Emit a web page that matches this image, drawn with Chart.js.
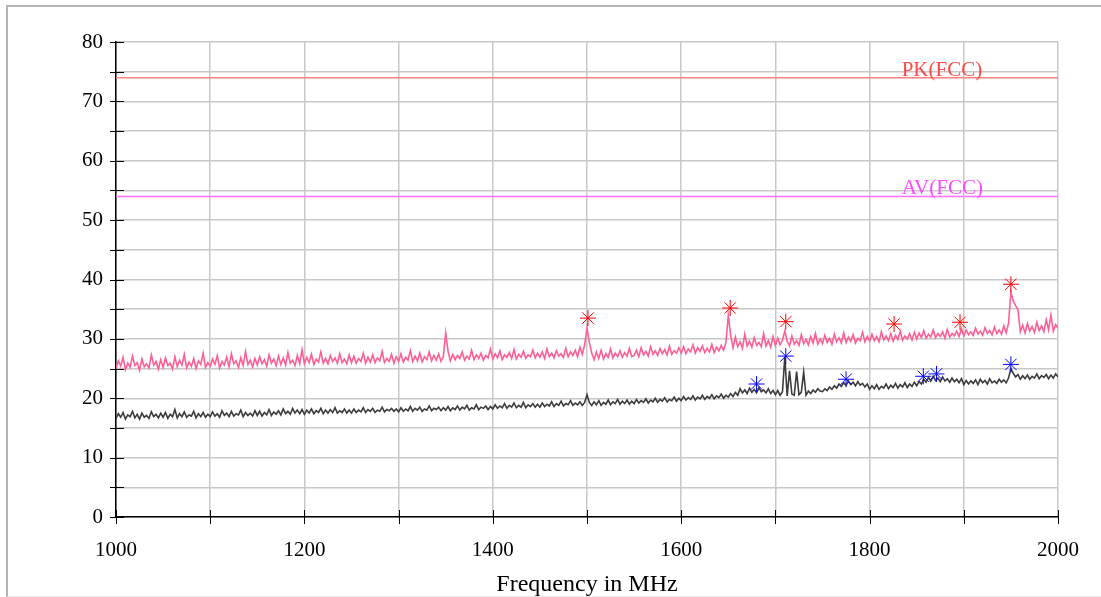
<!DOCTYPE html>
<html>
<head>
<meta charset="utf-8">
<script src="https://cdn.jsdelivr.net/npm/chart.js@4.4.1/dist/chart.umd.min.js"></script>
<style>
  html, body { margin: 0; padding: 0; background: #fff; overflow: hidden; }
  .frame {
    position: absolute; left: 6px; top: 5px; width: 1200px; height: 589px;
    border-left: 2px solid #b4b4b4; border-top: 2px solid #b4b4b4; border-bottom: 1px solid #e6e6e6;
  }
  .wrap { position: absolute; left: 0; top: 0; width: 1101px; height: 597px; }
</style>
</head>
<body>
<div class="frame"></div>
<div class="wrap"><canvas id="scan"></canvas></div>
<script>
/* ===== Sweep data (MHz / dBµV/m) ===== */

// Sweep grid: 1000 .. 2000 MHz, 2.5 MHz per bin, one row = 50 MHz
const SWEEP_START = 1000;
const SWEEP_STEP = 2.5;

// Peak detector trace
const peakLevel = [
  25.0, 26.3, 25.4, 26.9, 24.8, 25.9, 25.2, 27.1, 25.5, 26.0, 24.7, 26.6, 25.3, 25.8, 25.1, 27.3, 25.6, 26.2, 24.9, 26.5,
  25.2, 26.8, 25.5, 25.9, 24.9, 27.0, 25.3, 26.4, 25.6, 27.4, 25.1, 26.1, 25.4, 26.7, 25.0, 26.3, 25.7, 27.6, 25.2, 26.0,
  25.4, 26.6, 25.7, 27.2, 25.1, 26.2, 25.6, 26.9, 25.3, 27.5, 25.8, 26.3, 25.2, 26.8, 25.5, 27.9, 25.7, 26.4, 25.3, 26.7,
  25.6, 27.0, 25.8, 26.5, 25.4, 27.3, 25.9, 26.6, 25.5, 27.1, 25.7, 26.8, 25.6, 27.7, 25.9, 26.4, 25.5, 27.2, 25.8, 28.2,
  25.8, 26.9, 26.0, 27.4, 25.7, 26.6, 26.1, 27.8, 25.9, 26.7, 25.8, 27.2, 26.2, 26.8, 25.9, 27.5, 26.0, 26.6, 25.8, 27.3,
  26.0, 27.1, 25.9, 26.7, 26.2, 27.6, 25.9, 26.9, 26.1, 27.3, 26.0, 26.8, 26.3, 27.9, 26.0, 26.7, 26.2, 27.4, 25.9, 27.0,
  26.2, 27.5, 26.1, 26.9, 26.4, 28.0, 26.2, 27.1, 26.3, 27.6, 26.1, 27.0, 26.5, 27.8, 26.3, 27.2, 26.4, 27.5, 26.2, 27.0,
  31.0, 27.9, 26.3, 27.4, 26.5, 27.2, 26.7, 27.8, 26.4, 27.1, 26.6, 28.1, 26.5, 27.3, 26.7, 27.6, 26.4, 27.2, 26.8, 28.3,
  26.6, 27.5, 26.8, 28.0, 26.5, 27.3, 26.9, 27.7, 26.7, 28.2, 26.6, 27.4, 26.9, 27.9, 26.7, 27.3, 27.0, 28.1, 26.8, 27.6,
  26.9, 27.8, 26.7, 28.3, 27.0, 27.6, 26.8, 28.0, 27.1, 27.5, 26.9, 28.4, 27.0, 27.8, 27.2, 28.1, 27.0, 28.6, 27.4, 29.0,
  31.8, 29.4, 27.6, 26.5, 27.8, 26.7, 28.1, 26.6, 27.5, 26.9, 28.3, 26.8, 27.6, 27.0, 28.0, 26.9, 27.7, 27.1, 28.4, 27.0,
  27.2, 28.1, 27.0, 28.5, 27.3, 27.9, 27.1, 28.7, 27.4, 28.0, 27.2, 28.4, 27.5, 28.2, 27.3, 28.8, 27.4, 28.0, 27.6, 28.5,
  27.6, 28.7, 27.5, 28.3, 27.8, 29.0, 27.6, 28.5, 27.9, 28.8, 27.7, 28.4, 27.8, 29.1, 27.7, 28.6, 28.0, 28.9, 28.1, 29.4,
  34.0, 30.6, 28.5, 30.3, 28.7, 29.5, 28.4, 30.8, 28.8, 29.6, 28.6, 30.2, 28.9, 29.4, 28.7, 30.9, 28.8, 29.7, 28.6, 30.4,
  28.9, 30.1, 29.0, 29.8, 31.3, 29.6, 28.8, 30.5, 29.1, 29.7, 28.9, 30.7, 29.2, 29.9, 29.0, 30.4, 29.3, 30.9, 29.1, 30.0,
  29.2, 30.6, 29.4, 30.1, 29.1, 30.8, 29.5, 30.2, 29.3, 31.0, 29.4, 30.3, 29.6, 30.7, 29.3, 30.1, 29.7, 31.1, 29.5, 30.4,
  29.6, 30.8, 29.7, 30.4, 29.5, 31.2, 29.8, 30.5, 29.7, 30.9, 29.6, 30.6, 29.9, 31.3, 29.8, 30.5, 30.0, 30.9, 29.8, 31.1,
  30.0, 31.0, 30.2, 31.4, 30.1, 30.8, 30.3, 31.5, 30.2, 30.9, 30.4, 31.2, 30.1, 31.6, 30.3, 30.9, 30.5, 31.3, 30.4, 31.7,
  30.5, 31.5, 30.7, 31.2, 30.6, 31.8, 30.8, 31.3, 30.6, 31.9, 30.9, 31.4, 30.7, 32.0, 30.9, 31.5, 30.8, 32.2, 31.0, 32.6,
  37.9, 36.4, 35.6, 34.9, 31.2, 32.3, 31.0, 32.6, 31.3, 32.1, 31.1, 32.8, 31.4, 32.2, 31.2, 33.2, 31.5, 34.0, 31.3, 32.4,
  31.8
];

// Average detector trace
const avgLevel = [
  16.6, 17.4, 16.8, 17.6, 16.5, 17.2, 16.9, 17.8, 16.7, 17.3, 16.5, 17.5, 16.8, 17.1, 16.6, 17.7, 16.9, 17.3, 16.7, 17.5,
  16.8, 17.6, 16.6, 17.3, 16.9, 18.1, 16.7, 17.4, 16.9, 17.7, 16.8, 17.2, 17.0, 17.8, 16.7, 17.4, 16.9, 17.6, 16.8, 17.3,
  16.9, 17.7, 17.0, 17.4, 16.8, 17.9, 17.1, 17.5, 16.9, 17.8, 17.0, 17.4, 17.2, 18.0, 16.9, 17.6, 17.1, 17.5, 17.0, 17.9,
  17.1, 17.8, 17.0, 17.6, 17.2, 18.1, 17.1, 17.7, 17.3, 17.9, 17.2, 18.2, 17.4, 17.8, 17.3, 18.3, 17.5, 18.0, 17.4, 18.1,
  17.3, 18.0, 17.5, 18.2, 17.4, 17.9, 17.6, 18.3, 17.4, 18.0, 17.5, 18.1, 17.6, 18.4, 17.5, 17.9, 17.6, 18.2, 17.5, 18.0,
  17.5, 18.2, 17.6, 18.0, 17.7, 18.4, 17.6, 18.1, 17.8, 18.3, 17.6, 18.0, 17.8, 18.5, 17.7, 18.1, 17.9, 18.3, 17.8, 18.2,
  17.7, 18.4, 17.8, 18.2, 17.9, 18.6, 17.8, 18.3, 18.0, 18.5, 17.8, 18.2, 18.0, 18.7, 17.9, 18.3, 18.1, 18.5, 17.9, 18.4,
  18.0, 18.6, 17.9, 18.4, 18.1, 18.7, 18.0, 18.5, 18.2, 18.8, 18.0, 18.4, 18.2, 18.9, 18.1, 18.5, 18.3, 18.7, 18.1, 18.6,
  18.2, 18.9, 18.3, 18.7, 18.4, 19.1, 18.3, 18.8, 18.5, 19.2, 18.4, 18.8, 18.5, 19.3, 18.4, 18.9, 18.6, 19.1, 18.5, 19.0,
  18.5, 19.2, 18.6, 19.0, 18.7, 19.4, 18.6, 19.1, 18.8, 19.5, 18.7, 19.1, 18.9, 19.6, 18.8, 19.2, 18.9, 19.4, 18.8, 19.3,
  20.6, 19.3, 18.8, 19.4, 18.9, 19.6, 18.8, 19.3, 19.0, 19.7, 18.9, 19.4, 19.1, 19.8, 19.0, 19.5, 19.1, 19.7, 19.0, 19.5,
  19.1, 19.8, 19.2, 19.6, 19.3, 19.9, 19.2, 19.7, 19.4, 20.0, 19.3, 19.8, 19.5, 20.1, 19.4, 19.8, 19.6, 20.2, 19.5, 20.0,
  19.6, 20.3, 19.7, 20.1, 19.8, 20.4, 19.7, 20.2, 19.9, 20.5, 19.8, 20.3, 20.0, 20.6, 19.9, 20.4, 20.1, 20.7, 20.0, 20.5,
  20.2, 20.8, 20.3, 21.0, 20.5, 21.6, 20.9, 21.4, 20.8, 21.7, 21.0, 21.5, 20.9, 21.8, 21.1, 21.4, 20.9, 21.6, 20.8, 21.3,
  20.6, 21.3, 20.5, 21.1, 27.0, 20.4, 24.6, 20.7, 20.5, 24.5, 20.6, 21.0, 24.4, 20.5, 21.2, 20.8, 21.4, 21.0, 21.6, 21.2,
  21.1, 21.6, 21.3, 21.9, 21.5, 22.1, 21.7, 22.4, 22.0, 22.6, 22.2, 22.9, 22.3, 22.7, 22.1, 22.8, 22.2, 22.5, 21.9, 22.4,
  21.5, 22.1, 21.6, 22.3, 21.5, 22.0, 21.7, 22.4, 21.6, 22.2, 21.8, 22.5, 21.7, 22.3, 21.9, 22.6, 21.8, 22.4, 22.0, 22.7,
  22.1, 22.8, 22.4, 23.2, 22.7, 23.5, 22.9, 23.7, 23.0, 23.4, 22.8, 23.6, 22.9, 23.3, 22.7, 23.4, 22.8, 23.2, 22.6, 23.3,
  22.3, 23.0, 22.4, 22.9, 22.5, 23.1, 22.3, 23.2, 22.6, 23.0, 22.4, 23.3, 22.6, 22.9, 22.5, 23.2, 22.7, 23.1, 22.6, 23.4,
  25.0, 24.2, 23.6, 24.0, 23.2, 23.8, 23.3, 23.9, 23.2, 23.7, 23.4, 24.1, 23.3, 23.8, 23.5, 24.0, 23.3, 23.9, 23.4, 24.1,
  23.6
];

// Final measurement markers
const peakMarkFreq  = [1501, 1652, 1711, 1826, 1896, 1950];
const peakMarkLevel = [33.5, 35.2, 32.9, 32.5, 32.8, 39.2];
const avgMarkFreq   = [1680, 1711, 1775, 1857, 1871, 1950];
const avgMarkLevel  = [22.4, 27.1, 23.2, 23.7, 24.1, 25.7];

// Limit lines
const limitNames  = ['PK(FCC)', 'AV(FCC)'];
const limitLevels = [74, 54];
const LIMIT_LABEL_FREQ = 1834;

/* ===== Helpers ===== */

const sweepFreq = peakLevel.map((_, i) => SWEEP_START + i * SWEEP_STEP);
const toPoints = (xs, ys) => ys.map((v, i) => ({ x: xs[i], y: v }));

const SERIF = "'Liberation Serif', 'Times New Roman', serif";
const LIMIT_LINE_COLORS = ['#ff8080', '#ff70ff'];
const LIMIT_TEXT_COLORS = ['#ff4848', '#ff48ff'];

/* ===== Plugins: tick marks crossing the axes, limit captions ===== */

const axisTicks = {
  id: 'axisTicks',
  afterDatasetsDraw(chart) {
    const { ctx, scales: { x, y } } = chart;
    ctx.save();
    ctx.strokeStyle = '#000';
    ctx.lineWidth = 1;
    ctx.beginPath();
    y.ticks.forEach(t => {
      const py = Math.round(y.getPixelForValue(t.value)) + 0.5;
      ctx.moveTo(x.left - 6, py);
      ctx.lineTo(x.left + 8, py);
    });
    x.ticks.forEach(t => {
      const px = Math.round(x.getPixelForValue(t.value)) + 0.5;
      ctx.moveTo(px, y.bottom - 7);
      ctx.lineTo(px, y.bottom + 7);
    });
    ctx.stroke();
    ctx.restore();
  }
};

const limitLabels = {
  id: 'limitLabels',
  afterDatasetsDraw(chart) {
    const { ctx, scales: { x, y } } = chart;
    ctx.save();
    ctx.font = `21px ${SERIF}`;
    ctx.textAlign = 'left';
    ctx.textBaseline = 'alphabetic';
    limitNames.forEach((name, i) => {
      ctx.fillStyle = LIMIT_TEXT_COLORS[i];
      ctx.fillText(name, x.getPixelForValue(LIMIT_LABEL_FREQ), y.getPixelForValue(limitLevels[i]) - 2);
    });
    ctx.restore();
  }
};

/* ===== Chart ===== */

const limitSets = limitNames.map((name, i) => ({
  label: name,
  data: toPoints([SWEEP_START, 2000], [limitLevels[i], limitLevels[i]]),
  borderColor: LIMIT_LINE_COLORS[i],
  borderWidth: 1.5,
  pointRadius: 0,
  order: 3,
}));

const markerSet = (label, xs, ys, color) => ({
  label,
  data: toPoints(xs, ys),
  showLine: false,
  pointStyle: 'star',
  pointRadius: 8,
  borderWidth: 1,
  borderColor: color,
  backgroundColor: color,
  order: 1,
});

new Chart(document.getElementById('scan'), {
  type: 'line',
  data: {
    datasets: [
      ...limitSets,
      {
        label: 'Peak',
        data: toPoints(sweepFreq, peakLevel),
        borderColor: '#ff5f96',
        borderWidth: 1.6,
        pointRadius: 0,
        tension: 0,
        order: 2,
      },
      {
        label: 'Average',
        data: toPoints(sweepFreq, avgLevel),
        borderColor: '#3c3c3c',
        borderWidth: 1.6,
        pointRadius: 0,
        tension: 0,
        order: 2,
      },
      markerSet('Peak markers', peakMarkFreq, peakMarkLevel, '#ff0000'),
      markerSet('Average markers', avgMarkFreq, avgMarkLevel, '#0000ff'),
    ]
  },
  options: {
    responsive: true,
    maintainAspectRatio: false,
    animation: false,
    layout: { padding: { left: 0, top: 42, right: 43, bottom: 0 } },
    plugins: {
      legend: { display: false },
      tooltip: { enabled: false },
    },
    scales: {
      x: {
        type: 'linear',
        min: 1000,
        max: 2000,
        afterFit: scale => { scale.height = 80; },
        grid: { color: '#c8c8c8', lineWidth: 1.5, drawTicks: false },
        border: { color: '#000', width: 1.5 },
        ticks: {
          stepSize: 100,
          padding: 21,
          maxRotation: 0,
          autoSkip: false,
          color: '#000',
          font: { family: SERIF, size: 21 },
          callback: v => (v % 200 === 0 ? v : ''),
        },
        title: {
          display: true,
          text: 'Frequency in MHz',
          color: '#000',
          font: { family: SERIF, size: 24 },
          padding: { top: 0, bottom: -2 },
        }
      },
      y: {
        min: 0,
        max: 80,
        afterFit: scale => { scale.width = 116; },
        grid: { color: '#c8c8c8', lineWidth: 1.5, drawTicks: false },
        border: { color: '#000', width: 1.5 },
        ticks: {
          stepSize: 5,
          padding: 13,
          autoSkip: false,
          color: '#000',
          font: { family: SERIF, size: 21 },
          callback: v => (v % 10 === 0 ? v : ''),
        }
      }
    }
  },
  plugins: [axisTicks, limitLabels]
});
</script>
</body>
</html>
